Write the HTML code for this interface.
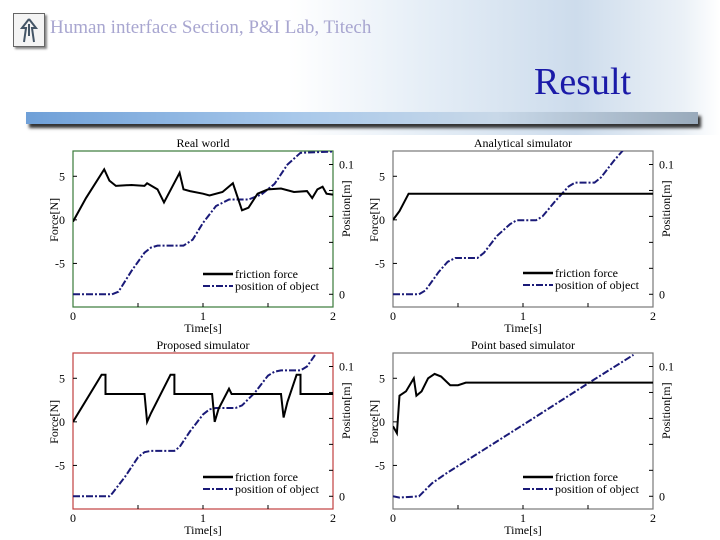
<!DOCTYPE html>
<html><head><meta charset="utf-8">
<style>
body{margin:0;width:720px;height:540px;overflow:hidden;background:#fff;font-family:"Liberation Serif",serif;position:relative}
#hdr{position:absolute;left:0;top:0;width:720px;height:135px;background:linear-gradient(90deg,#fff 0%,#fff 40%,#e4edf6 60%,#cddcec 80%,#ebf1f7 95%,#fff 100%)}
#logo{position:absolute;left:13px;top:13px;width:30px;height:32px;border:1px solid #666;background:#f4f4f4;box-shadow:2px 2px 2px #888}
#subtitle{position:absolute;left:50px;top:17px;font-size:19px;color:#a8a6d0;white-space:nowrap}
#result{position:absolute;left:534px;top:60px;font-size:38px;color:#1a1aa8}
#bar{position:absolute;left:26px;top:112px;width:672px;height:12px;background:linear-gradient(90deg,#6fa0d8,#a8c8ea 40%,#c8d8e8 70%,#9ab 100%);box-shadow:3px 4px 3px #333}
svg{position:absolute;left:0;top:0}
</style></head><body>
<div id="hdr"></div>
<div id="logo"><svg width="30" height="32" style="position:static"><path d="M15 5 L8 14 L12 14 L10 28 M15 5 L22 14 L18 14 L20 28 M15 10 L15 22" stroke="#456" stroke-width="2" fill="none"/></svg></div>
<div id="subtitle">Human interface Section, P&amp;I Lab, Titech</div>
<div id="result">Result</div>
<div id="bar"></div>
<svg id="c" width="720" height="540"></svg>
<script>
const realForceT=[0,0.1,0.24,0.28,0.33,0.45,0.55,0.57,0.65,0.7,0.82,0.85,0.9,1,1.05,1.15,1.23,1.3,1.35,1.42,1.5,1.6,1.7,1.8,1.84,1.88,1.92,1.95,2];
const realForceV=[-0.2,2.5,5.8,4.5,3.9,4,3.9,4.2,3.5,2,5.4,3.5,3.3,3,2.8,3.2,4.2,1.1,1.4,3,3.5,3.6,3.2,3.3,2.5,3.5,3.8,3,2.9];
const realPosT=[0,0.3,0.35,0.45,0.55,0.6,0.65,0.85,0.92,1,1.1,1.2,1.35,1.45,1.55,1.65,1.75,2];
const realPosV=[0,0,0.002,0.018,0.032,0.036,0.0375,0.0375,0.042,0.055,0.068,0.073,0.073,0.077,0.085,0.1,0.109,0.11];
const anaForceT=[0,0.05,0.12,2];
const anaForceV=[0,1,3,3];
const anaPosT=[0,0.2,0.25,0.35,0.42,0.48,0.65,0.7,0.8,0.9,0.95,1.1,1.15,1.25,1.35,1.4,1.55,1.6,1.7,1.77];
const anaPosV=[0,0,0.003,0.017,0.025,0.028,0.028,0.032,0.045,0.054,0.057,0.057,0.06,0.072,0.083,0.086,0.086,0.09,0.103,0.111];
const propForceT=[0,0.22,0.25,0.25,0.55,0.57,0.6,0.75,0.78,0.78,1.07,1.09,1.12,1.2,1.22,1.6,1.62,1.65,1.72,1.75,1.75,2];
const propForceV=[0,5.4,5.4,3.2,3.2,0,1,5.4,5.4,3.2,3.2,0,1.5,3.8,3.2,3.2,0.5,2.3,5.4,5.4,3.2,3.2];
const propPosT=[0,0.28,0.3,0.4,0.5,0.55,0.6,0.78,0.82,0.9,1,1.05,1.1,1.25,1.3,1.4,1.5,1.55,1.6,1.75,1.8,1.87];
const propPosV=[0,0,0.002,0.015,0.03,0.034,0.035,0.035,0.038,0.05,0.063,0.067,0.068,0.068,0.07,0.08,0.093,0.096,0.097,0.097,0.1,0.11];
const ptForceT=[0,0.03,0.05,0.1,0.16,0.18,0.22,0.27,0.32,0.37,0.44,0.5,0.56,2];
const ptForceV=[-0.5,-1.3,3,3.5,5,3,3.5,5,5.5,5.2,4.2,4.2,4.5,4.5];
const ptPosT=[0,0.05,0.2,0.3,0.4,1,1.5,1.85];
const ptPosV=[0,-0.001,0,0.01,0.017,0.055,0.087,0.109];

const NS="http://www.w3.org/2000/svg";
const svg=document.getElementById('c');
function el(t,a,p){const e=document.createElementNS(NS,t);for(const k in a)e.setAttribute(k,a[k]);(p||svg).appendChild(e);return e;}
function txt(x,y,s,p,extra){const e=el('text',Object.assign({x:x,y:y,'font-size':12,fill:'#000','font-family':'Liberation Serif, serif'},extra||{}),p);e.textContent=s;return e;}
function chart(name,L,T,color,title,showTime,fT,fV,pT,pV,legY){
  const g=el('g',{});
  
  
  const W=260,H=156,R=L+W,B=T+H;
  const xs=t=>L+t/2*W;
  const yf=v=>T+(7.9-v)/(17.9)*H;
  const yp=v=>T+(0.1104-v)/(0.1202)*H;
  const ti=txt((L+R)/2,T-4,title,g,{'text-anchor':'middle'});
  
  
  const fr=el('rect',{x:L,y:T,width:W,height:H,fill:'none',stroke:color,'stroke-width':1.2},g);
  
  
  for(const t of [0.5,1,1.5]){el('line',{x1:xs(t),x2:xs(t),y1:B,y2:B-4,stroke:'#000'},g);}
  [0,1,2].forEach(t=>{const e=txt(xs(t),B+13,String(t),g,{'text-anchor':'middle'});});
  [5,0,-5].forEach(v=>{const e=txt(L-8,yf(v)+4,String(v),g,{'text-anchor':'end'});el('line',{x1:L,x2:L+4,y1:yf(v),y2:yf(v),stroke:'#000'},g);});
  for(let v=0;v<=0.1;v+=0.02){el('line',{x1:R,x2:R-4,y1:yp(v),y2:yp(v),stroke:'#000'},g);}
  [[0.1,'0.1'],[0,'0']].forEach(([v,s])=>{const e=txt(R+6,yp(v)+4,s,g);});
  const yl=txt(0,0,'Force[N]',g,{'text-anchor':'middle',transform:`translate(${L-15},${yf(0)}) rotate(-90)`});
  
  const y2=txt(0,0,'Position[m]',g,{'text-anchor':'middle',transform:`translate(${R+17},${T+H*0.37}) rotate(-90)`});
  
  if(showTime){const e=txt((L+R)/2,B+25,'Time[s]',g,{'text-anchor':'middle'});}
  const cp=el('clipPath',{id:'cl'+name},g);el('rect',{x:L,y:T,width:W,height:H},cp);
  const pp=el('polyline',{points:pT.map((t,i)=>xs(t)+','+yp(pV[i])).join(' '),fill:'none',stroke:'#1a1a78','stroke-width':2,'stroke-dasharray':'7 2 2 2','clip-path':`url(#cl${name})`},g);
  
  const fp=el('polyline',{points:fT.map((t,i)=>xs(t)+','+yf(fV[i])).join(' '),fill:'none',stroke:'#000','stroke-width':2,'clip-path':`url(#cl${name})`},g);
  
  const lx=L+W*0.5;
  el('line',{x1:lx,x2:lx+30,y1:legY,y2:legY,stroke:'#000','stroke-width':2.5},g);
  el('line',{x1:lx,x2:lx+30,y1:legY+12,y2:legY+12,stroke:'#1a1a78','stroke-width':2,'stroke-dasharray':'7 2 2 2'},g);
  const l1=txt(lx+32,legY+4,'friction force',g);
  const l2=txt(lx+32,legY+16,'position of object',g);
}
chart('real-world-chart',73,151,'#3a7a3a','Real world',true,realForceT,realForceV,realPosT,realPosV,274);
chart('analytical-chart',393,151,'#777','Analytical simulator',true,anaForceT,anaForceV,anaPosT,anaPosV,273);
chart('proposed-chart',73,353,'#c04040','Proposed simulator',true,propForceT,propForceV,propPosT,propPosV,477);
chart('point-based-chart',393,353,'#777','Point based simulator',true,ptForceT,ptForceV,ptPosT,ptPosV,477);
</script>
</body></html>
